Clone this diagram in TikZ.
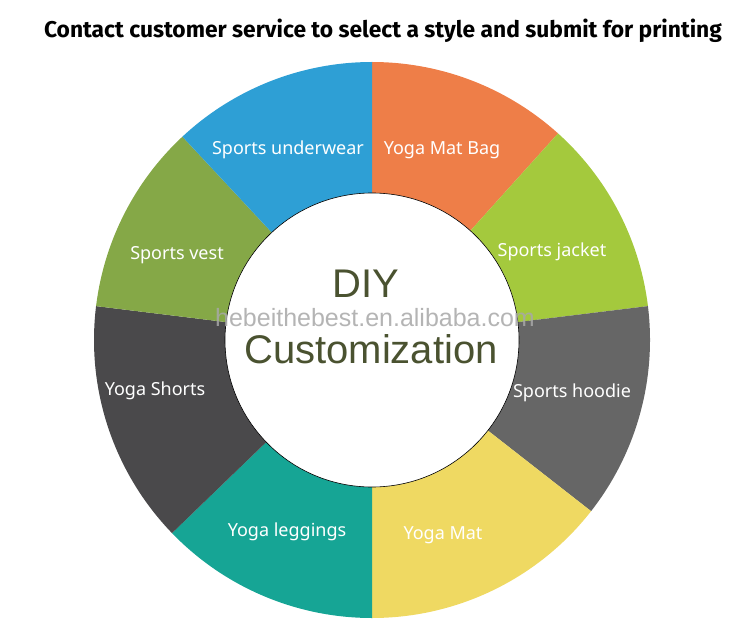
\documentclass[tikz,border=0pt]{standalone}
\usepackage{fontspec}
\setmainfont{Noto Sans}
\newfontfamily\titlefont{Fira Sans}
\newfontfamily\hubfont{Liberation Sans}
\definecolor{underwearblue}{HTML}{2E9FD5}
\definecolor{bagorange}{HTML}{EE7E48}
\definecolor{jacketlime}{HTML}{A4C93D}
\definecolor{hoodiegray}{HTML}{666666}
\definecolor{matyellow}{HTML}{EFD962}
\definecolor{leggingsteal}{HTML}{16A595}
\definecolor{shortsgray}{HTML}{4A494B}
\definecolor{vestolive}{HTML}{85A847}
\definecolor{diyolive}{HTML}{4A5230}

\begin{document}
\begin{tikzpicture}[x=1pt,y=1pt,
    seg label/.style={text=white,font=\fontsize{18}{21}\selectfont},
    hub text/.style={text=diyolive,anchor=base,font=\hubfont\fontsize{40}{45}\selectfont}]
\useasboundingbox (0,0) rectangle (749,633);
\coordinate (c) at (372,293);
\foreach \a/\b/\col in {48/90/bagorange,7/48/jacketlime,-38/7/hoodiegray,
    -90/-38/matyellow,-136/-90/leggingsteal,-187/-136/shortsgray,
    -227/-187/vestolive,-270/-227/underwearblue}
  \fill[\col] (c) -- ++(\a:278pt) arc[start angle=\a,end angle=\b,radius=278pt] -- cycle;
\node[circle,draw,fill=white,line width=0.6pt,minimum size=294pt,inner sep=0pt] (hub) at (c) {};

\node[anchor=base,font=\titlefont\bfseries\fontsize{22.8}{27}\selectfont] (title) at (383,595)
  {Contact customer service to select a style and submit for printing};

\node[seg label] (underwear) at (288,483) {Sports underwear};
\node[seg label] (bag) at (442,483) {Yoga Mat Bag};
\node[seg label] (vest) at (177,378) {Sports vest};
\node[seg label] (jacket) at (552,381) {Sports jacket};
\node[seg label] (shorts) at (155,242) {Yoga Shorts};
\node[seg label] (hoodie) at (572,240) {Sports hoodie};
\node[seg label] (leggings) at (287,101) {Yoga leggings};
\node[seg label] (mat) at (443,98) {Yoga Mat};

\node[hub text] (diy) at (366,336) {DIY};
\node[hub text] (custom) at (371,270) {Customization};
\node[text=black!34,opacity=0.85,font=\hubfont\fontsize{25}{30}\selectfont] (mark) at (375,315)
  {hebeithebest.en.alibaba.com};
\end{tikzpicture}
\end{document}
